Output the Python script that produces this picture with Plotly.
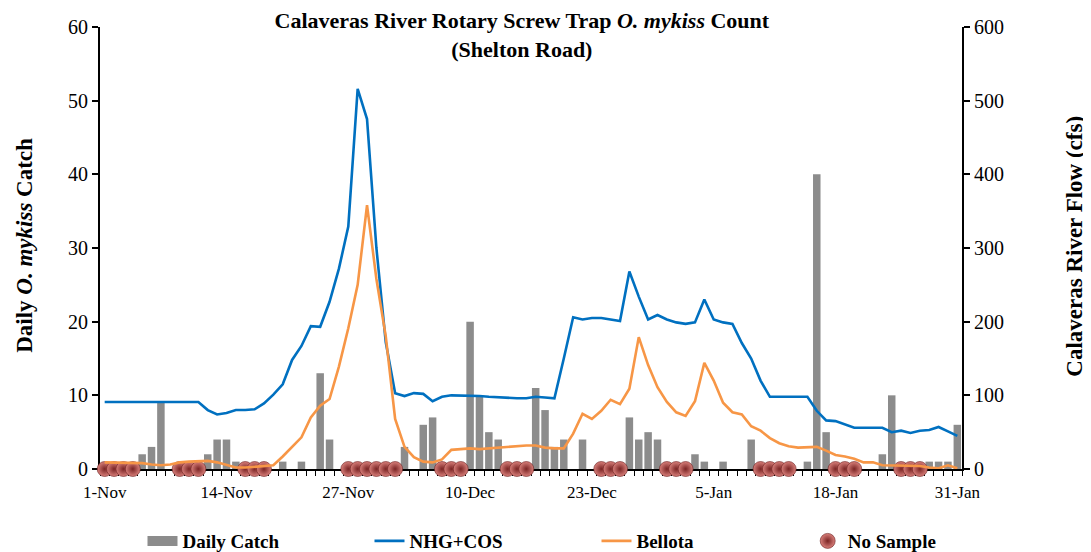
import pandas as pd
import plotly.graph_objects as go

# ---------------- data ----------------
dates = pd.date_range("2022-11-01", "2023-01-31", freq="D")

daily_catch = [
    0, 0, 0, 0, 2, 3, 9, 0, 0, 0,
    0, 2, 4, 4, 1, 0, 0, 0, 0, 1,
    0, 1, 0, 13, 4, 0, 0, 0, 0, 0,
    0, 0, 3, 0, 6, 7, 0, 0, 0, 20,
    10, 5, 4, 0, 0, 0, 11, 8, 3, 4,
    0, 4, 0, 0, 0, 0, 7, 4, 5, 4,
    0, 0, 0, 2, 1, 0, 1, 0, 0, 4,
    0, 0, 0, 0, 0, 1, 40, 5, 0, 0,
    0, 0, 0, 2, 10, 0, 0, 0, 1, 1,
    1, 6,
]

nhg_cos = [
    91, 91, 91, 91, 91, 91, 91, 91, 91, 91,
    91, 80, 74, 76, 80, 80, 81, 89, 101, 115,
    148, 167, 194, 193, 227, 272, 329, 516, 475, 300,
    172, 103, 99, 103, 102, 92, 98, 100, 100, 100,
    99, 98, 97, 96, 96, 96, 98, 97, 96, 150,
    206, 203, 205, 205, 203, 201, 268, 234, 203, 209,
    203, 199, 197, 199, 230, 203, 199, 197, 171, 150,
    120, 98, 98, 98, 98, 98, 79, 66, 65, 60,
    56, 56, 56, 56, 50, 52, 49, 52, 53, 57,
    51, 45,
]

bellota = [
    9, 9, 9, 9, 8, 6, 5, 6, 9, 10,
    10, 11, 9, 5, 2, 2, 3, 3, 5, 17,
    30, 43, 70, 86, 95, 139, 191, 250, 358, 258,
    180, 68, 30, 16, 10, 9, 13, 26, 27, 28,
    27, 28, 30, 31, 32, 32, 32, 29, 28, 28,
    48, 75, 68, 79, 94, 88, 109, 179, 141, 111,
    91, 77, 72, 92, 144, 120, 90, 77, 74, 58,
    52, 42, 35, 31, 29, 29, 30, 25, 19, 17,
    14, 9, 9, 5, 5, 5, 4, 4, 2, 1,
    5, 1,
]

no_sample_dates = [
    "2022-11-01", "2022-11-02", "2022-11-03", "2022-11-04",
    "2022-11-09", "2022-11-10", "2022-11-11",
    "2022-11-16", "2022-11-17", "2022-11-18",
    "2022-11-27", "2022-11-28", "2022-11-29", "2022-11-30", "2022-12-01", "2022-12-02",
    "2022-12-07", "2022-12-08", "2022-12-09",
    "2022-12-14", "2022-12-15", "2022-12-16",
    "2022-12-24", "2022-12-25", "2022-12-26",
    "2022-12-31", "2023-01-01", "2023-01-02",
    "2023-01-10", "2023-01-11", "2023-01-12", "2023-01-13",
    "2023-01-18", "2023-01-19", "2023-01-20",
    "2023-01-25", "2023-01-26", "2023-01-27",
]
no_sample_values = [0] * len(no_sample_dates)

tick_dates = ["2022-11-01", "2022-11-14", "2022-11-27", "2022-12-10",
              "2022-12-23", "2023-01-05", "2023-01-18", "2023-01-31"]
tick_labels = ["1-Nov", "14-Nov", "27-Nov", "10-Dec", "23-Dec", "5-Jan", "18-Jan", "31-Jan"]

# ---------------- figure ----------------
FONT = "Liberation Serif, Times New Roman, serif"
DAY_MS = 86400000
GRAY = "#8c8c8c"

fig = go.Figure()

fig.add_trace(go.Bar(
    x=dates, y=daily_catch, name="Daily Catch", showlegend=False,
    marker=dict(color=GRAY, line=dict(width=0)),
    width=0.8 * DAY_MS, yaxis="y",
))
# legend swatch for the bars (wide gray rectangle like the original)
fig.add_trace(go.Scatter(
    x=[None], y=[None], name="Daily Catch", mode="lines",
    line=dict(color=GRAY, width=10), yaxis="y", legend="legend",
))
fig.add_trace(go.Scatter(
    x=dates, y=nhg_cos, name="NHG+COS", mode="lines",
    line=dict(color="#0070C0", width=2.6), yaxis="y2", legend="legend",
))
fig.add_trace(go.Scatter(
    x=dates, y=bellota, name="Bellota", mode="lines",
    line=dict(color="#F79646", width=2.6), yaxis="y2", legend="legend",
))
fig.add_trace(go.Scatter(
    x=pd.to_datetime(no_sample_dates), y=no_sample_values, name="No Sample",
    mode="markers", yaxis="y", cliponaxis=False, legend="legend2",
    marker=dict(size=15, color="#d9807b",
                gradient=dict(type="radial", color="#7a2424"),
                line=dict(width=0.6, color="#6a1f1f")),
))

legend_common = dict(
    orientation="h", xanchor="left", y=-0.12, yanchor="top",
    entrywidth=182, entrywidthmode="pixels",
    font=dict(family=FONT, size=19, weight="bold"),
    bgcolor="rgba(0,0,0,0)", traceorder="normal",
)

fig.update_layout(
    width=1091, height=552, autosize=False,
    paper_bgcolor="white", plot_bgcolor="white",
    margin=dict(l=92, r=137, t=19, b=91, autoexpand=False),
    font=dict(family=FONT, color="black", size=17),
    showlegend=True,
    bargap=0.2,
    title=dict(
        text="<b>Calaveras River Rotary Screw Trap <i>O. mykiss</i> Count<br>(Shelton Road)</b>",
        x=0.471, xanchor="center", y=0.963, yanchor="middle",
        font=dict(family=FONT, size=22, color="black"),
    ),
    xaxis=dict(
        type="date",
        range=["2022-10-31 12:00", "2023-01-31 12:00"],
        tickvals=tick_dates, ticktext=tick_labels,
        ticks="outside", ticklen=5, tickcolor="rgba(0,0,0,0)",
        minor=dict(ticks="outside", ticklen=5, tickcolor="black", tickwidth=1,
                   tick0="2022-10-31 12:00", dtick=DAY_MS, showgrid=False),
        showline=True, linecolor="black", linewidth=2,
        showgrid=False, zeroline=False,
        tickfont=dict(family=FONT, size=17),
        ticklabelstandoff=2,
        automargin=False,
        layer="below traces",
    ),
    yaxis=dict(
        range=[0, 60], dtick=10,
        ticks="outside", ticklen=6, tickwidth=1.5, tickcolor="black",
        showline=True, linecolor="black", linewidth=2,
        showgrid=False, zeroline=False,
        tickfont=dict(family=FONT, size=20),
        automargin=False,
        layer="below traces",
    ),
    yaxis2=dict(
        range=[0, 600], dtick=100, overlaying="y", side="right",
        ticks="outside", ticklen=6, tickwidth=1.5, tickcolor="black",
        showline=True, linecolor="black", linewidth=2,
        showgrid=False, zeroline=False,
        tickfont=dict(family=FONT, size=20),
        automargin=False,
        layer="below traces",
    ),
    legend=dict(x=0.0493, **legend_common),
    legend2=dict(x=0.821, **legend_common),
    annotations=[
        dict(text="<b>Daily <i>O. mykiss</i> Catch</b>", xref="paper", yref="paper",
             x=-0.087, y=0.505, textangle=-90, showarrow=False,
             xanchor="center", yanchor="middle",
             font=dict(family=FONT, size=23, color="black")),
        dict(text="<b>Calaveras River Flow (cfs)</b>", xref="paper", yref="paper",
             x=1.131, y=0.505, textangle=-90, showarrow=False,
             xanchor="center", yanchor="middle",
             font=dict(family=FONT, size=23, color="black")),
    ],
)

fig.write_html("out.html")
